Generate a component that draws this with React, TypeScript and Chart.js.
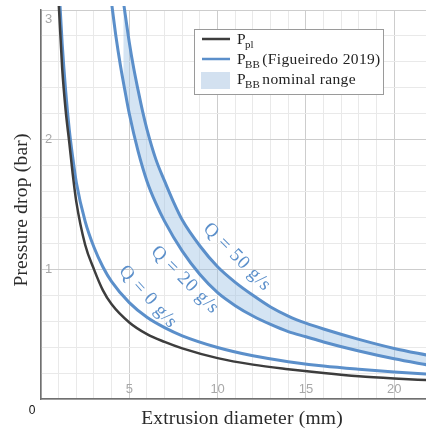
import React, { useEffect, useRef } from "react";
import { Chart, registerables } from "chart.js";

Chart.register(...registerables);

// ---- Data ----
const diameterPl = [1.0, 1.2, 1.4, 1.6, 1.8, 2.0, 2.5, 3.0, 3.5, 4.0, 5.0, 6.0, 7.0, 8.0, 10, 12, 14, 16, 18, 20, 22];
const pressurePl = [3.06, 2.55, 2.22, 1.98, 1.73, 1.52, 1.19, 1.0, 0.84, 0.73, 0.59, 0.5, 0.44, 0.39, 0.315, 0.265, 0.23, 0.2, 0.175, 0.158, 0.145];

const diameterQ0 = [1.05, 1.2, 1.4, 1.6, 1.8, 2.0, 2.5, 3.0, 3.5, 4.0, 5.0, 6.0, 7.0, 8.0, 10, 12, 14, 16, 18, 20, 22];
const pressureQ0 = [3.1, 2.74, 2.37, 2.08, 1.86, 1.67, 1.37, 1.17, 1.02, 0.905, 0.743, 0.63, 0.55, 0.487, 0.397, 0.333, 0.288, 0.254, 0.229, 0.208, 0.191];

const diameterQ20 = [4.0, 4.25, 4.5, 4.75, 5.0, 5.5, 6.0, 6.5, 7.0, 8.0, 9.0, 10, 11, 12, 13, 14, 15, 16, 18, 20, 22];
const pressureQ20 = [3.05, 2.79, 2.57, 2.38, 2.2, 1.91, 1.68, 1.51, 1.37, 1.14, 0.96, 0.82, 0.72, 0.64, 0.575, 0.52, 0.48, 0.44, 0.37, 0.31, 0.26];

const diameterQ50 = [4.66, 5.0, 5.25, 5.5, 5.75, 6.0, 6.5, 7.0, 7.5, 8.0, 9.0, 10, 11, 12, 13, 14, 15, 16, 18, 20, 22];
const pressureQ50 = [3.07, 2.75, 2.55, 2.38, 2.22, 2.08, 1.85, 1.68, 1.52, 1.38, 1.18, 1.02, 0.9, 0.8, 0.71, 0.64, 0.585, 0.54, 0.46, 0.39, 0.335];

const xTickLabels = [5, 10, 15, 20];
const yTickLabels = [1, 2, 3];

const curveLabelTexts = ["Q = 0 g/s", "Q = 20 g/s", "Q = 50 g/s"];
const curveLabelX = [6.06, 8.15, 11.1];
const curveLabelY = [0.787, 0.918, 1.094];
const curveLabelAngle = [48, 45, 45];

const legendMain = ["P", "P", "P"];
const legendSub = ["pl", "BB", "BB"];
const legendRest = ["", "(Figueiredo 2019)", "nominal range"];

const xTitle = "Extrusion diameter (mm)";
const yTitle = "Pressure drop (bar)";

const BLUE = "#5b8fca";
const DARK = "#3d3d3d";
const FILL = "rgba(160, 196, 228, 0.45)";
const SERIF = '"Liberation Serif", "Times New Roman", serif';
const SANS = '"Liberation Sans", Arial, sans-serif';

const toPoints = (xs: number[], ys: number[]) => xs.map((x, i) => ({ x, y: ys[i] }));

const decorPlugin = {
  id: "decor",
  afterDraw(chart: any) {
    const { ctx, chartArea, scales } = chart;
    const xs = scales.x;
    const ys = scales.y;
    ctx.save();

    // tick labels inside plot
    ctx.fillStyle = "#a8a8a8";
    ctx.font = `13px ${SANS}`;
    ctx.textAlign = "center";
    ctx.textBaseline = "middle";
    xTickLabels.forEach((v) => {
      ctx.fillText(String(v), xs.getPixelForValue(v), chartArea.bottom - 10);
    });
    ctx.textAlign = "left";
    yTickLabels.forEach((v) => {
      const py = Math.max(ys.getPixelForValue(v), chartArea.top + 9);
      ctx.fillText(String(v), chartArea.left + 4, py);
    });

    // origin label
    ctx.fillStyle = "#111";
    ctx.font = `12px ${SANS}`;
    ctx.textAlign = "center";
    ctx.fillText("0", 32, 411);

    // axis titles
    ctx.fillStyle = "#2a2a2a";
    ctx.font = `19.5px ${SERIF}`;
    (ctx as any).letterSpacing = "0.2px";
    ctx.textAlign = "center";
    ctx.textBaseline = "alphabetic";
    ctx.fillText(xTitle, 242, 424);
    ctx.save();
    ctx.translate(27, 210);
    ctx.rotate(-Math.PI / 2);
    ctx.fillText(yTitle, 0, 0);
    ctx.restore();

    // curve labels
    ctx.fillStyle = BLUE;
    ctx.font = `19px ${SERIF}`;
    ctx.textAlign = "center";
    ctx.textBaseline = "middle";
    curveLabelTexts.forEach((t, i) => {
      ctx.save();
      ctx.translate(xs.getPixelForValue(curveLabelX[i]), ys.getPixelForValue(curveLabelY[i]));
      ctx.rotate((curveLabelAngle[i] * Math.PI) / 180);
      (ctx as any).letterSpacing = "0.8px";
      ctx.fillText(t, 0, 0);
      ctx.restore();
    });

    // legend
    (ctx as any).letterSpacing = "0px";
    const lx = 194.5, ly = 29.5, lw = 189, lh = 65;
    ctx.fillStyle = "#ffffff";
    ctx.fillRect(lx, ly, lw, lh);
    ctx.strokeStyle = "#9a9a9a";
    ctx.lineWidth = 1;
    ctx.strokeRect(lx, ly, lw, lh);

    const rowsY = [39, 59, 80];
    ctx.lineWidth = 2.5;
    ctx.strokeStyle = DARK;
    ctx.beginPath(); ctx.moveTo(202, rowsY[0]); ctx.lineTo(230, rowsY[0]); ctx.stroke();
    ctx.strokeStyle = BLUE;
    ctx.beginPath(); ctx.moveTo(202, rowsY[1]); ctx.lineTo(230, rowsY[1]); ctx.stroke();
    ctx.fillStyle = "#d3e1f0";
    ctx.fillRect(201, 72, 29, 17);

    ctx.fillStyle = "#222";
    ctx.textAlign = "left";
    ctx.textBaseline = "alphabetic";
    const baselines = [43.5, 63.5, 84];
    legendMain.forEach((m, i) => {
      let x = 237;
      (ctx as any).letterSpacing = "0px";
      ctx.font = `15.5px ${SERIF}`;
      ctx.fillText(m, x, baselines[i]);
      x += ctx.measureText(m).width - 0.5;
      ctx.font = `11px ${SERIF}`;
      ctx.fillText(legendSub[i], x, baselines[i] + 4);
      x += ctx.measureText(legendSub[i]).width + 2.5;
      if (legendRest[i]) {
        ctx.font = `15.5px ${SERIF}`;
        (ctx as any).letterSpacing = "0.35px";
        ctx.fillText(legendRest[i], x, baselines[i]);
      }
    });

    ctx.restore();
  },
};

export default function App() {
  const canvasRef = useRef<HTMLCanvasElement | null>(null);

  useEffect(() => {
    if (!canvasRef.current) return;
    const majorOrMinor = (v: number, step: number) =>
      Math.abs(v / step - Math.round(v / step)) < 1e-6 ? "#cdcdcd" : "#e9e9e9";

    const lineCommon = {
      showLine: true,
      pointRadius: 0,
      cubicInterpolationMode: "monotone",
      clip: { left: 0, top: 4, right: 0, bottom: 0 },
    };

    const chart = new Chart(canvasRef.current, {
      type: "scatter",
      data: {
        datasets: [
          {
            ...lineCommon,
            label: "P_pl",
            data: toPoints(diameterPl, pressurePl),
            borderColor: DARK,
            borderWidth: 2.5,
            fill: false,
          },
          {
            ...lineCommon,
            label: "Q0",
            data: toPoints(diameterQ0, pressureQ0),
            borderColor: BLUE,
            borderWidth: 3,
            fill: false,
          },
          {
            ...lineCommon,
            label: "Q20",
            data: toPoints(diameterQ20, pressureQ20),
            borderColor: BLUE,
            borderWidth: 3,
            fill: false,
          },
          {
            ...lineCommon,
            label: "Q50",
            data: toPoints(diameterQ50, pressureQ50),
            borderColor: BLUE,
            borderWidth: 3,
            fill: { target: "-1" },
            backgroundColor: FILL,
          },
        ],
      } as any,
      options: {
        animation: false,
        responsive: false,
        devicePixelRatio: 1,
        layout: { padding: { left: 41, top: 10, right: 0, bottom: 37 } },
        plugins: {
          legend: { display: false },
          tooltip: { enabled: false },
          title: { display: false },
        },
        scales: {
          x: {
            type: "linear",
            min: 0,
            max: 21.8,
            ticks: { display: false, stepSize: 1 },
            grid: {
              drawTicks: false,
              color: (c: any) => majorOrMinor(c.tick ? c.tick.value : 0, 5),
              lineWidth: 1,
            },
            border: { display: true, color: "#707070", width: 1.5 },
          },
          y: {
            type: "linear",
            min: 0,
            max: 3,
            ticks: { display: false, stepSize: 0.2 },
            grid: {
              drawTicks: false,
              color: (c: any) => majorOrMinor(c.tick ? c.tick.value : 0, 1),
              lineWidth: 1,
            },
            border: { display: true, color: "#707070", width: 1.5 },
          },
        },
      } as any,
      plugins: [decorPlugin],
    });
    return () => chart.destroy();
  }, []);

  return (
    <div style={{ position: "absolute", left: 0, top: 0, width: 426, height: 436, background: "#fff" }}>
      <canvas ref={canvasRef} width={426} height={436} style={{ width: 426, height: 436, display: "block" }} />
    </div>
  );
}
